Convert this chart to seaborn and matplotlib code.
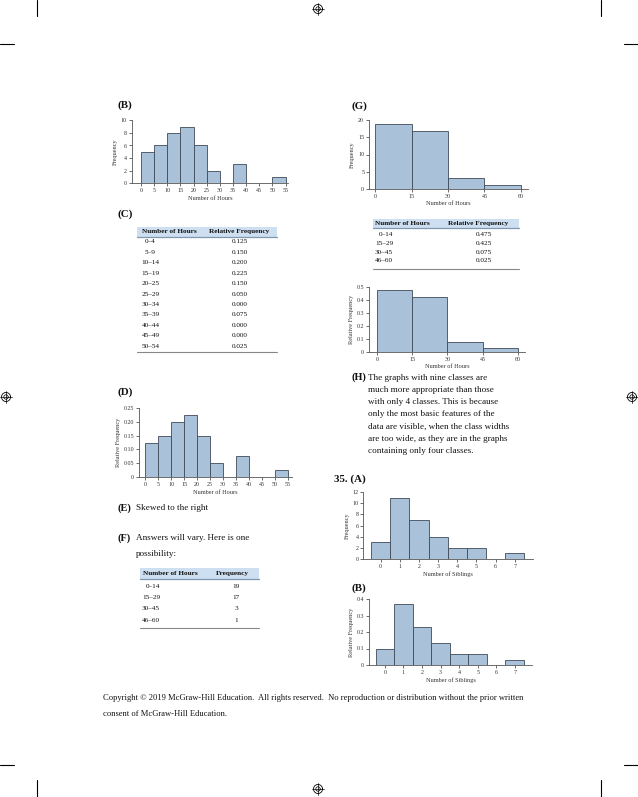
import numpy as np
import pandas as pd
import matplotlib
matplotlib.use("Agg")
import matplotlib.pyplot as plt
import seaborn as sns

# ---- data ----
hours_edges = [0, 5, 10, 15, 20, 25, 30, 35, 40, 45, 50, 55]
hours_freq = [5, 6, 8, 9, 6, 2, 0, 3, 0, 0, 1]
hours_relfreq = [0.125, 0.150, 0.200, 0.225, 0.150, 0.050, 0.000, 0.075, 0.000, 0.000, 0.025]
hours_classes = ["0–4", "5–9", "10–14", "15–19", "20–25", "25–29", "30–34",
                 "35–39", "40–44", "45–49", "50–54"]

wide_edges = [0, 15, 30, 45, 60]
wide_classes = ["0–14", "15–29", "30–45", "46–60"]
wide_freq = [19, 17, 3, 1]
wide_relfreq = [0.475, 0.425, 0.075, 0.025]

siblings = [0, 1, 2, 3, 4, 5, 6, 7]
sib_freq = [3, 11, 7, 4, 2, 2, 0, 1]
sib_relfreq = [0.100, 0.367, 0.233, 0.133, 0.067, 0.067, 0.000, 0.033]

h_text = ["The graphs with nine classes are",
          "much more appropriate than those",
          "with only 4 classes. This is because",
          "only the most basic features of the",
          "data are visible, when the class widths",
          "are too wide, as they are in the graphs",
          "containing only four classes."]

W, H = 638, 797
FILL = "#a9c2da"
EDGE = "#3e4a58"
BAND = "#cddff0"
SPINE = "#555555"
BODY = 6.6
LABEL = 7.8
ITEM = 7.4

sns.set_style("white")
plt.rcParams["font.family"] = ["Liberation Serif", "DejaVu Serif"]

fig = plt.figure(figsize=(W / 100, H / 100), dpi=100)

# overlay in pixel coordinates for page text, tables and marks
page = fig.add_axes([0, 0, 1, 1])
page.set_xlim(0, W)
page.set_ylim(H, 0)
page.axis("off")


def box(l, t, r, b):
    return [l / W, 1 - b / H, (r - l) / W, (b - t) / H]


def txt(x, y, s, size=BODY, bold=False, ha="left"):
    page.text(x, y, s, fontsize=size, fontweight="bold" if bold else "normal",
              ha=ha, va="center", color="#111111")


def panel(rect, x, w, xlim, ylim, yticks, ylabels, xticks, ylabel, xlabel,
          bins=None, discrete=False):
    ax = fig.add_axes(box(*rect))
    if discrete:
        sns.histplot(x=x, weights=w, discrete=True, shrink=1, ax=ax,
                     color=FILL, edgecolor=EDGE, linewidth=0.6, alpha=1)
    else:
        sns.histplot(x=x, weights=w, bins=bins, ax=ax,
                     color=FILL, edgecolor=EDGE, linewidth=0.6, alpha=1)
    ax.set_xlim(*xlim)
    ax.set_ylim(*ylim)
    ax.set_yticks(yticks)
    ax.set_yticklabels(ylabels)
    ax.set_xticks(xticks)
    ax.set_xticklabels([str(t) for t in xticks])
    ax.set_facecolor("none")
    for s in ["top", "right"]:
        ax.spines[s].set_visible(False)
    for s in ["left", "bottom"]:
        ax.spines[s].set_color(SPINE)
        ax.spines[s].set_linewidth(0.6)
    ax.tick_params(axis="both", direction="out", length=2, width=0.5,
                   pad=1.5, labelsize=4.3, colors="#333333", left=True, bottom=True)
    ax.set_ylabel(ylabel, fontsize=4.5, labelpad=2, color="#333333")
    ax.set_xlabel(xlabel, fontsize=4.5, labelpad=2, color="#333333")
    return ax


def table(x0, x1, band, bottom, head, head_x, rows1, rows2, row_y, col1_x, col2_x):
    page.fill_between([x0, x1], band[0], band[1], color=BAND, lw=0)
    page.plot([x0, x1], [band[1], band[1]], color="#7f98b0", lw=0.9)
    page.plot([x0, x1], [bottom, bottom], color="#888888", lw=0.8)
    hy = (band[0] + band[1]) / 2
    for h, hx in zip(head, head_x):
        txt(hx, hy, h, size=5.2, bold=True)
    for a, b, y in zip(rows1, rows2, row_y):
        indent = 3.5 if a.index("–") == 1 else 0
        txt(col1_x + indent, y, a, size=5.2)
        txt(col2_x, y, b, size=5.2, ha="center")


mids = [(a + b) / 2 for a, b in zip(hours_edges[:-1], hours_edges[1:])]
wmids = [(a + b) / 2 for a, b in zip(wide_edges[:-1], wide_edges[1:])]

# (B)
panel((131.7, 120.3, 288, 183.3), mids, hours_freq, (-3.5, 55.9), (0, 10),
      [0, 2, 4, 6, 8, 10], ["0", "2", "4", "6", "8", "10"], hours_edges,
      "Frequency", "Number of Hours", bins=hours_edges)

# (D)
panel((139, 407.7, 291.5, 477.3), mids, hours_relfreq, (-2.3, 56.3), (0, 0.25),
      [0, 0.05, 0.10, 0.15, 0.20, 0.25], ["0", "0.05", "0.10", "0.15", "0.20", "0.25"],
      hours_edges, "Relative Frequency", "Number of Hours", bins=hours_edges)

# (G)
panel((369, 120.3, 528, 188.7), wmids, wide_freq, (-2.5, 62.9), (0, 20),
      [0, 5, 10, 15, 20], ["0", "5", "10", "15", "20"], wide_edges,
      "Frequency", "Number of Hours", bins=wide_edges)

# (G) relative
panel((369, 287, 525, 351.7), wmids, wide_relfreq, (-3.3, 63), (0, 0.5),
      [0, 0.1, 0.2, 0.3, 0.4, 0.5], ["0", "0.1", "0.2", "0.3", "0.4", "0.5"],
      wide_edges, "Relative Frequency", "Number of Hours", bins=wide_edges)

# 35 (A)
panel((363.3, 492.3, 533, 558.7), siblings, sib_freq, (-0.91, 7.95), (0, 12),
      [0, 2, 4, 6, 8, 10, 12], ["0", "2", "4", "6", "8", "10", "12"], siblings,
      "Frequency", "Number of Siblings", discrete=True)

# 35 (B)
panel((369, 599, 532, 665), siblings, sib_relfreq, (-0.86, 7.93), (0, 0.4),
      [0, 0.1, 0.2, 0.3, 0.4], ["0", "0.1", "0.2", "0.3", "0.4"], siblings,
      "Relative Frequency", "Number of Siblings", discrete=True)

# tables
table(136.7, 276.7, (226.7, 236.7), 351.7, ["Number of Hours", "Relative Frequency"],
      [141.5, 209], hours_classes, [f"{v:.3f}" for v in hours_relfreq],
      np.linspace(241.7, 346.3, len(hours_classes)), 141.5, 240)
table(140, 259.3, (568, 579), 627.7, ["Number of Hours", "Frequency"],
      [143, 216], wide_classes, [str(v) for v in wide_freq],
      np.linspace(586, 620.3, len(wide_classes)), 142, 236)
table(372.7, 519, (219.3, 228.3), 269, ["Number of Hours", "Relative Frequency"],
      [375, 448], wide_classes, [f"{v:.3f}" for v in wide_relfreq],
      np.linspace(234, 261, len(wide_classes)), 375, 484)

# section labels and body text
txt(118, 105.5, "(B)", size=LABEL, bold=True)
txt(118, 214, "(C)", size=LABEL, bold=True)
txt(118, 392, "(D)", size=LABEL, bold=True)
txt(118, 508, "(E)", size=ITEM, bold=True)
txt(135.5, 508, "Skewed to the right")
txt(118, 538.5, "(F)", size=ITEM, bold=True)
txt(135.5, 538.5, "Answers will vary. Here is one")
txt(135.5, 554.5, "possibility:")
txt(351, 106, "(G)", size=LABEL, bold=True)
txt(351, 377.5, "(H)", size=ITEM, bold=True)
for i, line in enumerate(h_text):
    txt(368, 377.5 + i * 12.3, line)
txt(334, 479, "35. (A)", size=LABEL, bold=True)
txt(351, 588, "(B)", size=LABEL, bold=True)
txt(103, 698.5, "Copyright © 2019 McGraw-Hill Education.  All rights reserved.  "
    "No reproduction or distribution without the prior written", size=6.15)
txt(103, 713.5, "consent of McGraw-Hill Education.", size=6.15)

# crop marks
for x in (37, 601):
    page.plot([x, x], [0, 16], color="black", lw=0.8)
    page.plot([x, x], [780, 797], color="black", lw=0.8)
for y in (43.5, 765):
    page.plot([0, 13.5], [y, y], color="black", lw=0.8)
    page.plot([624, 638], [y, y], color="black", lw=0.8)

# registration marks
theta = np.linspace(0, 2 * np.pi, 60)
for cx, cy in [(318, 9), (318, 789), (6, 397), (632, 397)]:
    page.plot(cx + 4.5 * np.cos(theta), cy + 4.5 * np.sin(theta), color="black", lw=0.6)
    page.plot(cx + 2.2 * np.cos(theta), cy + 2.2 * np.sin(theta), color="black", lw=0.5)
    page.plot([cx - 6, cx + 6], [cy, cy], color="black", lw=0.5)
    page.plot([cx, cx], [cy - 6, cy + 6], color="black", lw=0.5)

fig.savefig("out.png", dpi=100, facecolor="white")
